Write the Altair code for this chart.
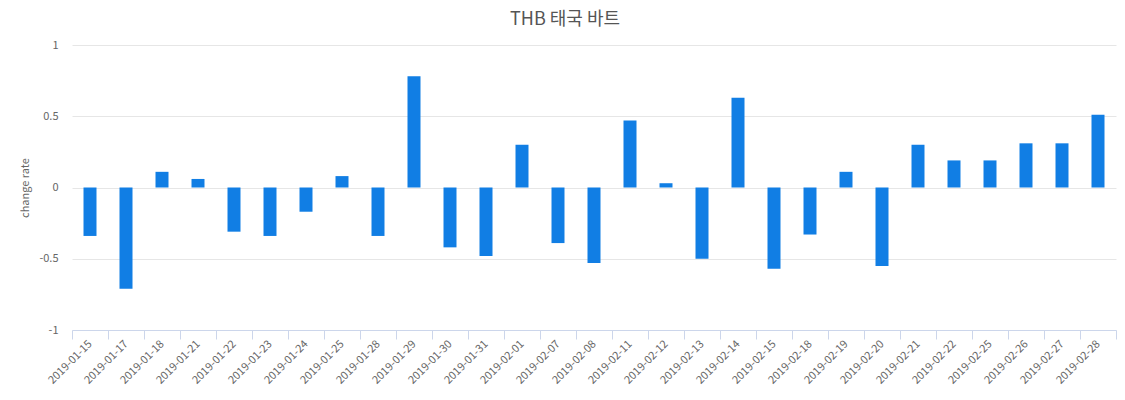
import altair as alt
import pandas as pd

dates = [
    "2019-01-15", "2019-01-17", "2019-01-18", "2019-01-21", "2019-01-22",
    "2019-01-23", "2019-01-24", "2019-01-25", "2019-01-28", "2019-01-29",
    "2019-01-30", "2019-01-31", "2019-02-01", "2019-02-07", "2019-02-08",
    "2019-02-11", "2019-02-12", "2019-02-13", "2019-02-14", "2019-02-15",
    "2019-02-18", "2019-02-19", "2019-02-20", "2019-02-21", "2019-02-22",
    "2019-02-25", "2019-02-26", "2019-02-27", "2019-02-28",
]
rates = [
    -0.34, -0.71, 0.11, 0.06, -0.31,
    -0.34, -0.17, 0.08, -0.34, 0.78,
    -0.42, -0.48, 0.30, -0.39, -0.53,
    0.47, 0.03, -0.50, 0.63, -0.57,
    -0.33, 0.11, -0.55, 0.30, 0.19,
    0.19, 0.31, 0.31, 0.51,
]
y_ticks = [-1, -0.5, 0, 0.5, 1]

df = pd.DataFrame({"date": dates, "rate": rates})

FONT = "Noto Sans CJK KR"

chart = alt.Chart(df).mark_bar(color="#117ee4", size=13).encode(
    x=alt.X(
        "date:N",
        sort=dates,
        title=None,
        scale=alt.Scale(paddingInner=0, paddingOuter=0),
        axis=alt.Axis(
            labelAngle=-45,
            labelAlign="right",
            labelBaseline="middle",
            labelFontSize=11,
            labelColor="#666666",
            labelFont=FONT,
            labelPadding=3,
            tickBand="extent",
            tickColor="#ccd6eb",
            tickSize=9,
            domainColor="#ccd6eb",
            grid=False,
            labelOverlap=False,
        ),
    ),
    y=alt.Y(
        "rate:Q",
        title="change rate",
        scale=alt.Scale(domain=[-1, 1], nice=False),
        axis=alt.Axis(
            values=y_ticks,
            labelExpr="'' + datum.value",
            labelFontSize=11,
            labelColor="#666666",
            labelFont=FONT,
            labelPadding=14,
            ticks=False,
            domain=False,
            gridColor="#e6e6e6",
            titleFontSize=11,
            titleFontWeight="normal",
            titleColor="#666666",
            titleFont=FONT,
            titlePadding=8,
        ),
    ),
).properties(
    width=1044,
    height=285,
    title=alt.TitleParams(
        "THB 태국 바트",
        fontSize=18,
        fontWeight="normal",
        color="#555555",
        font=FONT,
        anchor="middle",
        dx=-29,
        offset=10,
    ),
    autosize=alt.AutoSizeParams(type="none"),
    padding={"left": 64, "top": 37, "right": 1, "bottom": 62},
).configure_view(stroke=None)

chart.save("out.html", embed_options={"renderer": "svg", "actions": False})
